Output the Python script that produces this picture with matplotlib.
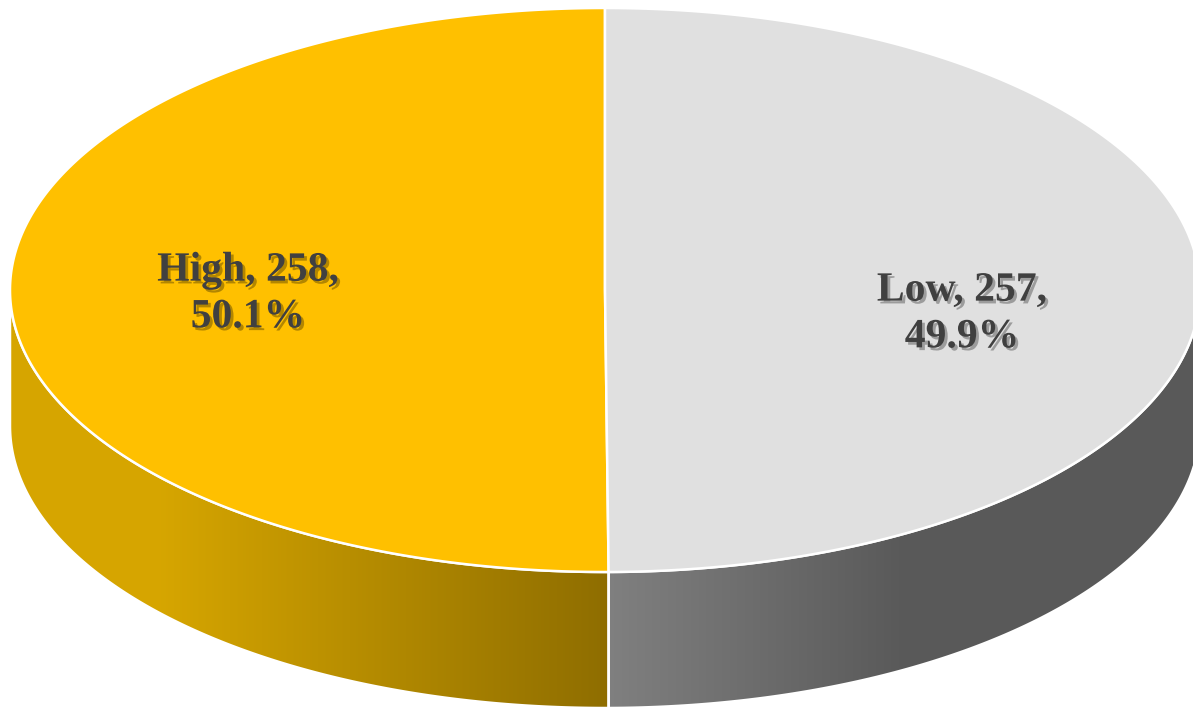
import numpy as np
import matplotlib
matplotlib.use("Agg")
import matplotlib.pyplot as plt
from matplotlib.patches import Polygon
import matplotlib.patheffects as pe

categories = ["High", "Low"]
values = [258, 257]
top_colors = ["#FFC000", "#E0E0E0"]
side_light = [(0.84, 0.65, 0.0), (0.50, 0.50, 0.50)]
side_dark = [(0.56, 0.43, 0.0), (0.35, 0.35, 0.35)]

W, H = 1193, 711
fig = plt.figure(figsize=(W / 100, H / 100), dpi=100)
ax = fig.add_axes([0, 0, 1, 1])
ax.set_xlim(0, W)
ax.set_ylim(H, 0)
ax.axis("off")

cx, cy, a, b, depth = 605, 290, 595, 282, 136


def pt(theta_deg, dy=0.0):
    t = np.radians(theta_deg)
    return cx + a * np.cos(t), cy - b * np.sin(t) + dy


total = sum(values)
start = 90.0
angles = []
for v in values:
    span = 360.0 * v / total
    angles.append((start, start + span))
    start += span

# side walls
for i, (t1, t2) in enumerate(angles):
    for off in (0, 360, -360):
        s1, s2 = max(t1 + off, 180), min(t2 + off, 360)
        if s2 <= s1:
            continue
        th = np.linspace(s1, s2, 200)
        xs, ys = pt(th)
        xb, yb = pt(th[::-1], depth)
        poly = np.column_stack([np.concatenate([xs, xb]), np.concatenate([ys, yb])])
        patch = Polygon(poly, closed=True, facecolor="none", edgecolor="none")
        ax.add_patch(patch)
        x0, x1 = xs.min(), xs.max()
        cols = np.linspace(0, 1, 300)
        light = np.array(side_light[i])
        dark = np.array(side_dark[i])
        if i == 0:
            f = np.clip((cols - 0.25) / 0.75, 0, 1)
        else:
            f = np.clip(cols / 0.5, 0, 1)
        grad = light[None, :] * (1 - f[:, None]) + dark[None, :] * f[:, None]
        img = grad[None, :, :]
        im = ax.imshow(img, extent=[x0, x1, ys.max() + depth, ys.min()],
                       aspect="auto", interpolation="bilinear", zorder=1)
        im.set_clip_path(patch)
        edge = Polygon(poly, closed=True, facecolor="none", edgecolor="white",
                       linewidth=1.8, zorder=2)
        ax.add_patch(edge)

# tops
for i, (t1, t2) in enumerate(angles):
    th = np.linspace(t1, t2, 400)
    xs, ys = pt(th)
    poly = np.column_stack([np.concatenate([[cx], xs]), np.concatenate([[cy], ys])])
    ax.add_patch(Polygon(poly, closed=True, facecolor=top_colors[i],
                         edgecolor="white", linewidth=1.8, zorder=3))

# labels
label_offsets = [(-357, 4), (357, 24)]
for i, (t1, t2) in enumerate(angles):
    pct = 100.0 * values[i] / total
    txt = f"{categories[i]}, {values[i]},\n{pct:.1f}%"
    dx, dy = label_offsets[i]
    ax.text(cx + dx, cy + dy, txt, ha="center", va="center",
            family=["Liberation Serif", "DejaVu Serif"], fontweight="bold",
            fontsize=30, color="#404040", linespacing=1.3, zorder=5,
            path_effects=[pe.SimplePatchShadow(offset=(2, -2), shadow_rgbFace="black", alpha=0.3),
                          pe.Normal()])

fig.savefig("out.png", dpi=100)
